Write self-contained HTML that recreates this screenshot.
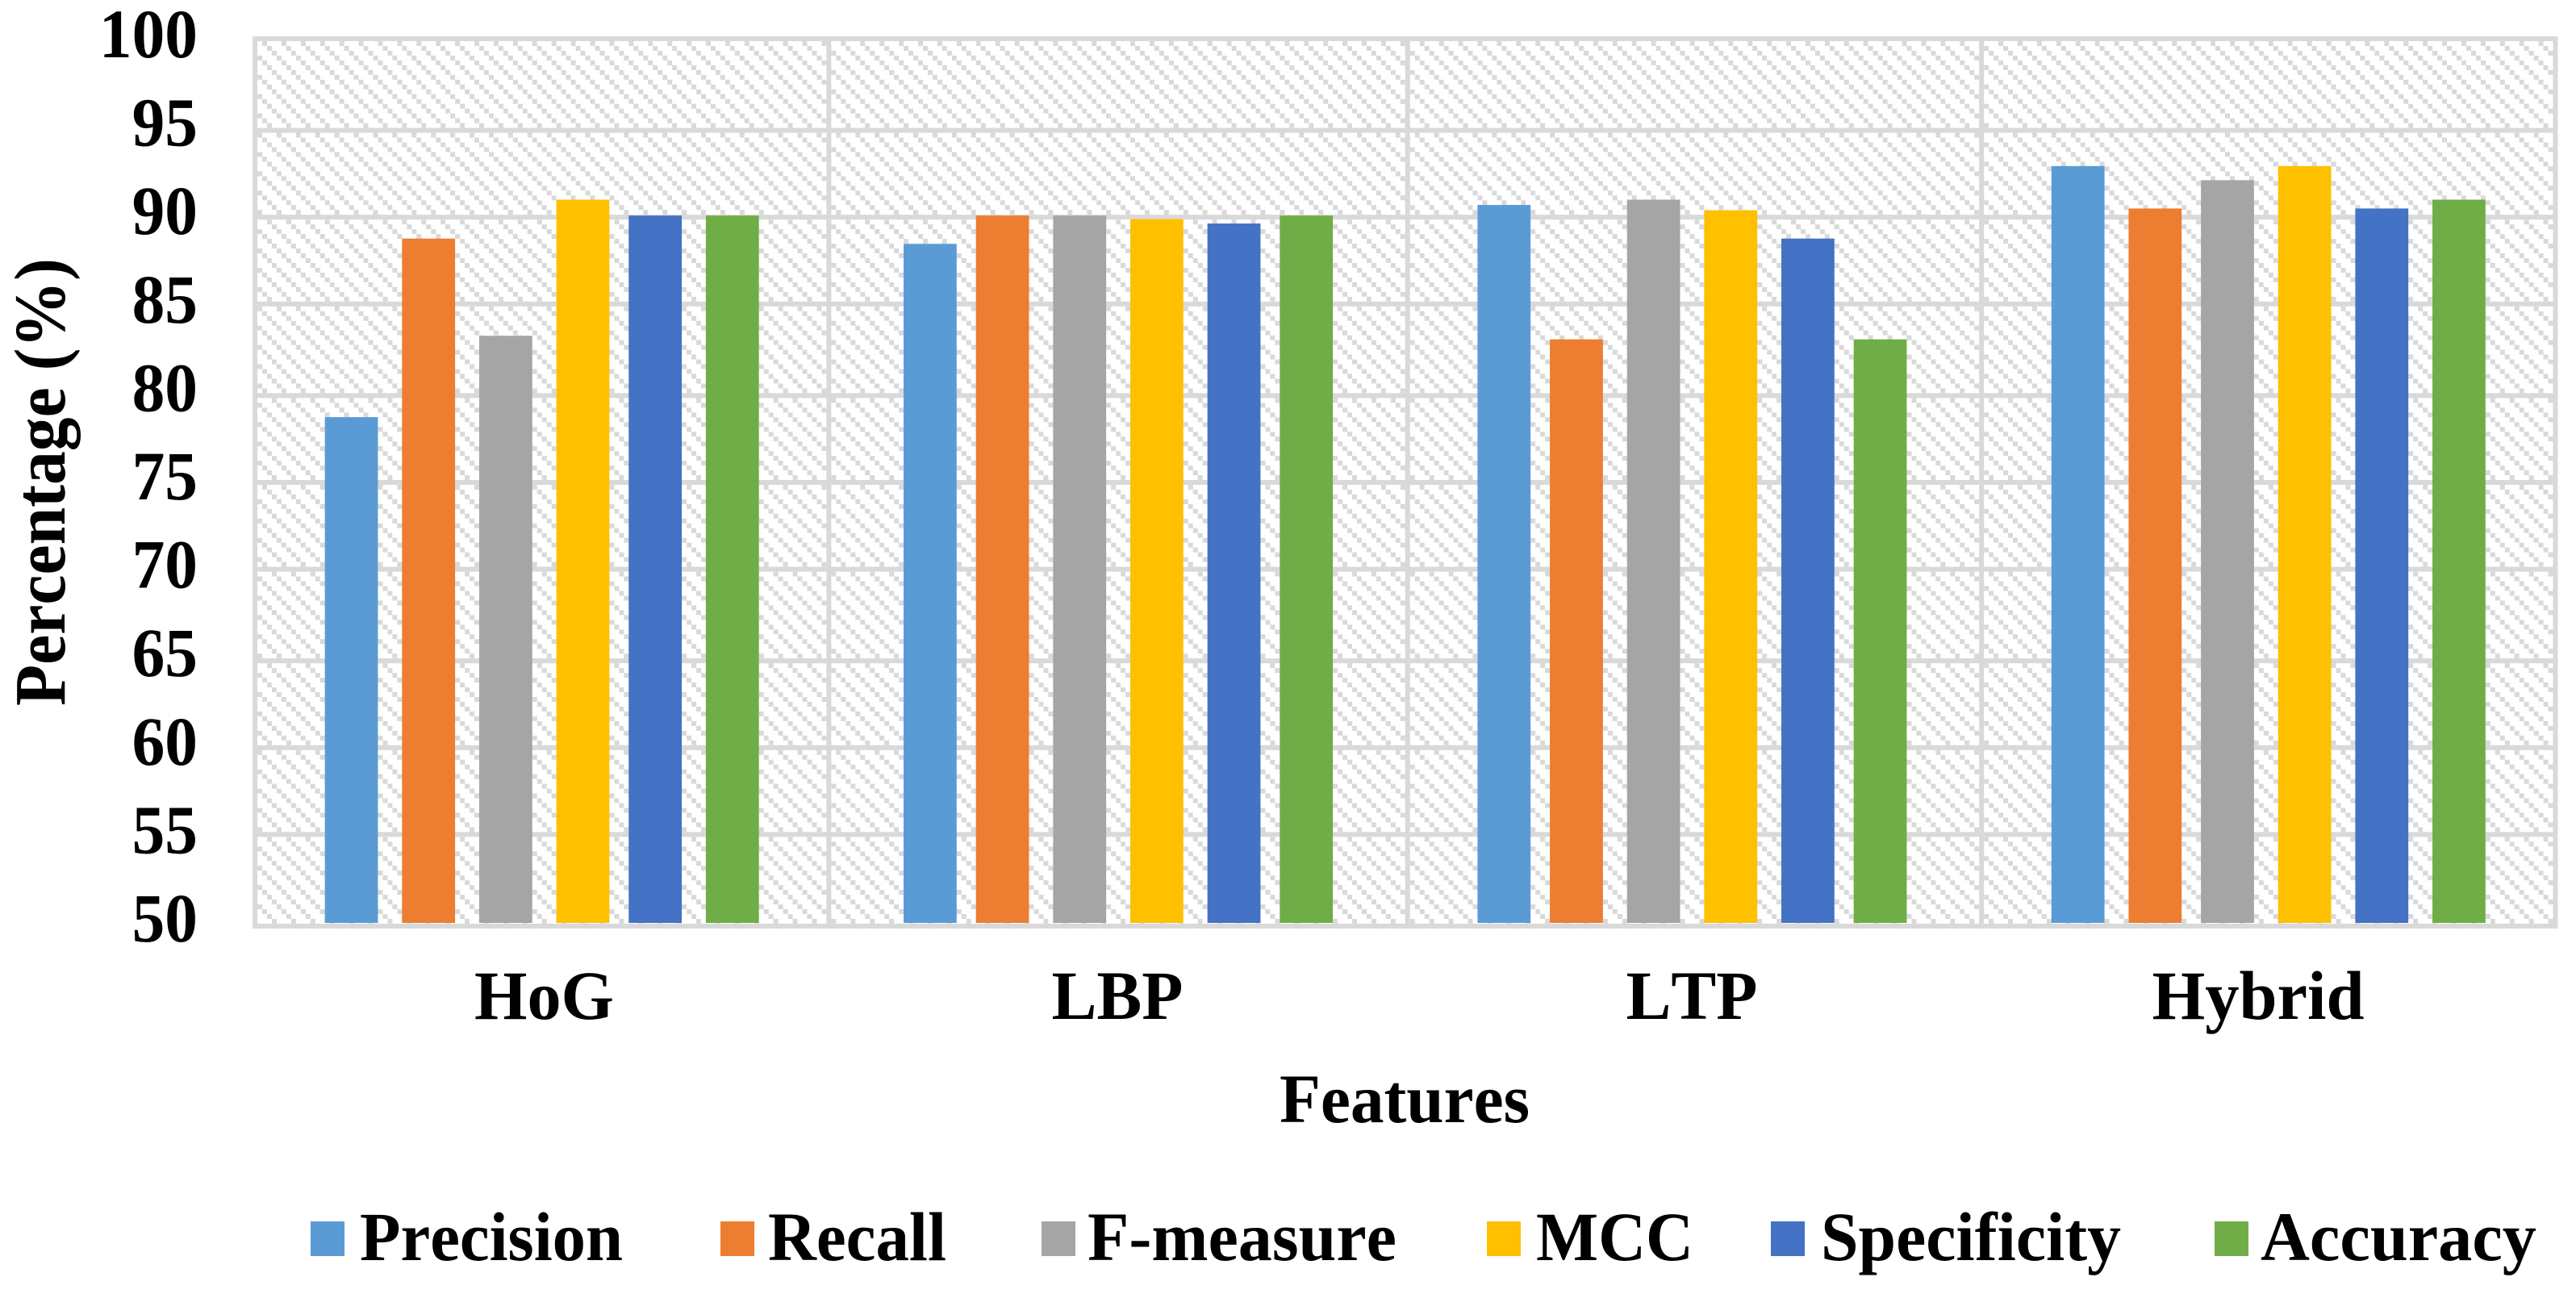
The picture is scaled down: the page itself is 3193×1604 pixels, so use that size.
<!DOCTYPE html>
<html>
<head>
<meta charset="utf-8">
<title>Feature comparison chart</title>
<style>
html,body{margin:0;padding:0;background:#fff;}
svg{display:block;}
text{font-family:"Liberation Serif",serif;font-weight:bold;fill:#000;font-size:86px;font-kerning:none;}
</style>
</head>
<body>
<svg id="chart" xmlns="http://www.w3.org/2000/svg" width="3193" height="1604" viewBox="0 0 3193 1604">
  <defs>
    <pattern id="hatch" patternUnits="userSpaceOnUse" x="325" y="51" width="23.912" height="23.912">
      <rect x="0" y="0" width="5.978" height="5.978" fill="#d9d9d9"/>
      <rect x="5.978" y="5.978" width="5.978" height="5.978" fill="#d9d9d9"/>
      <rect x="11.956" y="11.956" width="5.978" height="5.978" fill="#d9d9d9"/>
      <rect x="17.934" y="17.934" width="5.978" height="5.978" fill="#d9d9d9"/>
    </pattern>
  </defs>
  <rect x="313" y="45" width="2856" height="1106" fill="url(#hatch)"/>
  <g id="grid"></g>
  <g id="bars"></g>
  <g id="y-ticks"></g>
  <g id="x-ticks">
    <text x="674.5" y="1263" text-anchor="middle" textLength="173" lengthAdjust="spacingAndGlyphs">HoG</text>
    <text x="1385" y="1263" text-anchor="middle" textLength="163" lengthAdjust="spacingAndGlyphs">LBP</text>
    <text x="2097" y="1263" text-anchor="middle" textLength="163" lengthAdjust="spacingAndGlyphs">LTP</text>
    <text x="2799" y="1263" text-anchor="middle" textLength="263" lengthAdjust="spacingAndGlyphs">Hybrid</text>
  </g>
  <text x="1741" y="1391" text-anchor="middle" textLength="310" lengthAdjust="spacingAndGlyphs">Features</text>
  <text transform="translate(80,875) rotate(-90)" x="0" y="0" style="font-size:90px" textLength="555" lengthAdjust="spacingAndGlyphs">Percentage (%)</text>
  <g>
    <g>
      <rect x="385" y="1514" width="42" height="43" fill="#5b9bd5"/>
      <text x="446" y="1562" textLength="326" lengthAdjust="spacingAndGlyphs">Precision</text>
    </g>
    <g>
      <rect x="893" y="1514" width="42" height="43" fill="#ed7d31"/>
      <text x="952" y="1562" textLength="221" lengthAdjust="spacingAndGlyphs">Recall</text>
    </g>
    <g>
      <rect x="1291" y="1514" width="42" height="43" fill="#a5a5a5"/>
      <text x="1348" y="1562" textLength="383" lengthAdjust="spacingAndGlyphs">F-measure</text>
    </g>
    <g>
      <rect x="1843" y="1514" width="42" height="43" fill="#ffc000"/>
      <text x="1904" y="1562" textLength="195" lengthAdjust="spacingAndGlyphs">MCC</text>
    </g>
    <g>
      <rect x="2195" y="1514" width="42" height="43" fill="#4472c4"/>
      <text x="2257" y="1562" textLength="372" lengthAdjust="spacingAndGlyphs">Specificity</text>
    </g>
    <g>
      <rect x="2745" y="1514" width="42" height="43" fill="#70ad47"/>
      <text x="2802" y="1562" textLength="342" lengthAdjust="spacingAndGlyphs">Accuracy</text>
    </g>
  </g>
</svg>
<script>
var categories = ["HoG", "LBP", "LTP", "Hybrid"];
var seriesNames = ["precision", "recall", "f-measure", "mcc", "specificity", "accuracy"];
var seriesColors = ["#5b9bd5", "#ed7d31", "#a5a5a5", "#ffc000", "#4472c4", "#70ad47"];
var precision = [78.6, 88.4, 90.6, 92.8];
var recall = [88.7, 90.0, 83.0, 90.4];
var fMeasure = [83.2, 90.0, 90.9, 92.0];
var mcc = [90.9, 89.8, 90.3, 92.8];
var specificity = [90.0, 89.55, 88.7, 90.4];
var accuracy = [90.0, 90.0, 83.0, 90.9];
var yTicks = [100, 95, 90, 85, 80, 75, 70, 65, 60, 55, 50];

var allSeries = [precision, recall, fMeasure, mcc, specificity, accuracy];
var NS = "http://www.w3.org/2000/svg";
var S = 5.978;
var PLOT_LEFT = 313;
var PLOT_TOP = 45;
var PLOT_W = 2856;
var PLOT_H = 1106;

function yScale(v) { return 48 + (100 - v) * 21.92; }
function gridTop(v) { return PLOT_TOP + S * Math.ceil((100 - v) * 11 / 3 - 1e-9); }
function bandLeft(c) { return PLOT_LEFT + S * Math.round(119.3 * c); }
function barLeft(c, i) { return PLOT_LEFT + S * Math.round(15.3 + 119.2 * c + 15.75 * i); }

var gridG = document.getElementById("grid");
var barsG = document.getElementById("bars");
var yG = document.getElementById("y-ticks");

yTicks.forEach(function (t) {
  var line = document.createElementNS(NS, "rect");
  
  
  line.setAttribute("x", PLOT_LEFT);
  line.setAttribute("y", gridTop(t));
  line.setAttribute("width", PLOT_W);
  line.setAttribute("height", S);
  line.setAttribute("fill", "#d9d9d9");
  gridG.appendChild(line);

  var label = document.createElementNS(NS, "text");
  
  
  label.setAttribute("x", 245);
  label.setAttribute("y", yScale(t) + 23);
  label.setAttribute("text-anchor", "end");
  label.setAttribute("textLength", String(t).length * 40.7);
  label.setAttribute("lengthAdjust", "spacingAndGlyphs");
  label.textContent = t;
  yG.appendChild(label);
});

for (var c = 0; c <= categories.length; c++) {
  var v = document.createElementNS(NS, "rect");
  
  
  v.setAttribute("x", bandLeft(c));
  v.setAttribute("y", PLOT_TOP);
  v.setAttribute("width", S);
  v.setAttribute("height", PLOT_H);
  v.setAttribute("fill", "#d9d9d9");
  gridG.appendChild(v);
}

categories.forEach(function (cat, c) {
  allSeries.forEach(function (vals, i) {
    var bar = document.createElementNS(NS, "rect");
    
    
    var top = yScale(vals[c]);
    bar.setAttribute("x", barLeft(c, i));
    bar.setAttribute("y", top);
    bar.setAttribute("width", S * 11);
    bar.setAttribute("height", yScale(50) - top);
    bar.setAttribute("fill", seriesColors[i]);
    barsG.appendChild(bar);
  });
});
</script>
</body>
</html>
